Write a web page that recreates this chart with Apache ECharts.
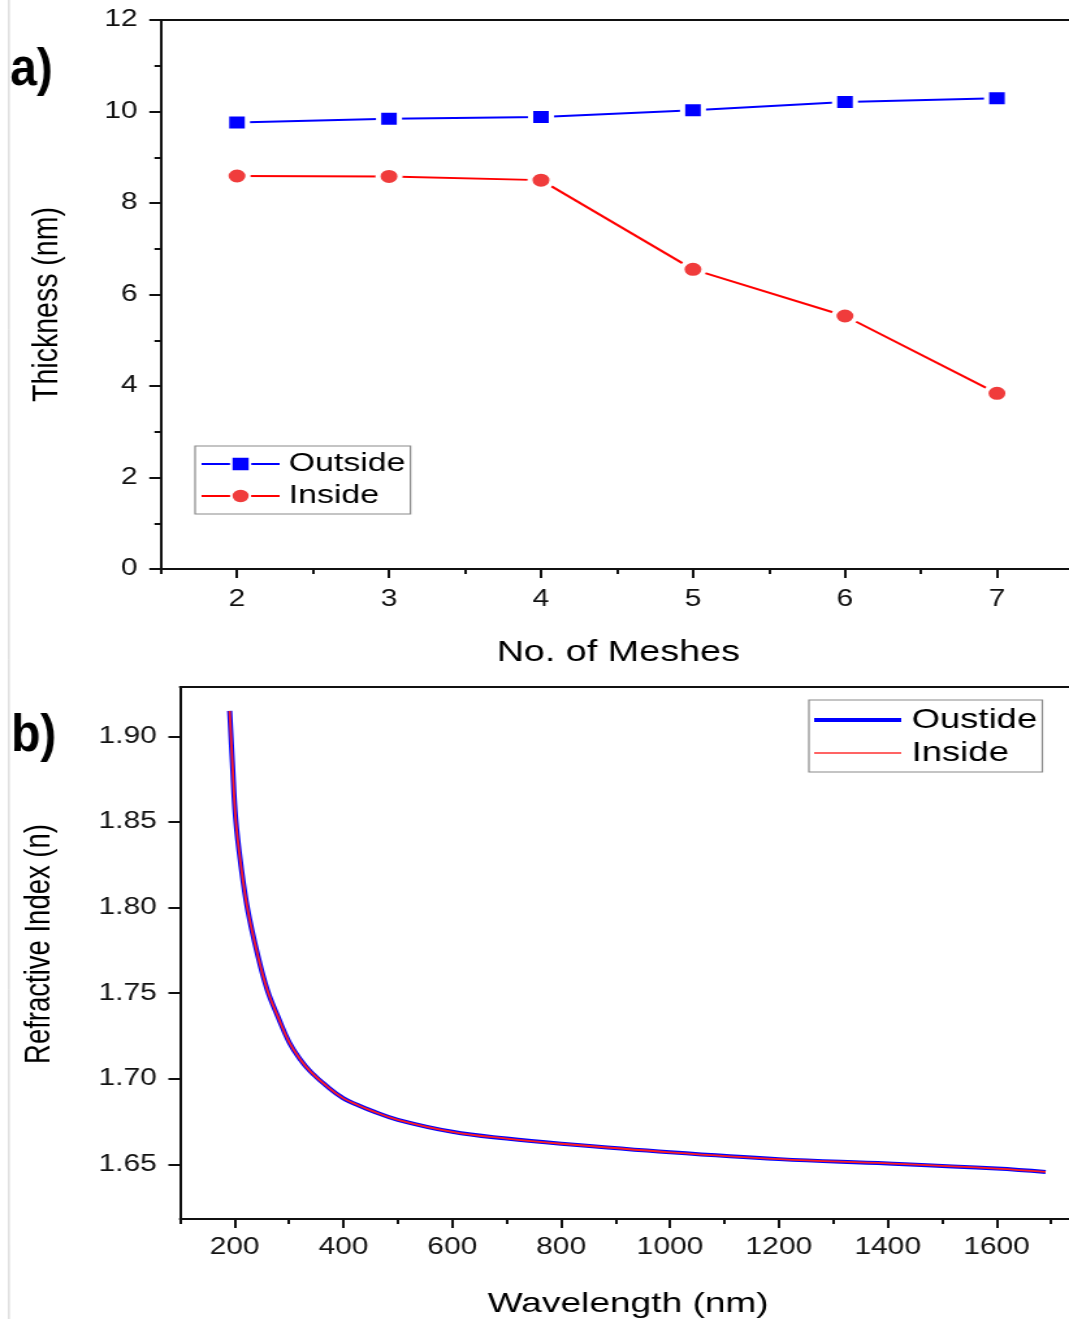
<!DOCTYPE html>
<html>
<head>
<meta charset="utf-8">
<title>Thickness and refractive index</title>
<script src="https://cdn.jsdelivr.net/npm/echarts@6/dist/echarts.min.js"></script>
<style>
  html, body { margin: 0; padding: 0; background: #fff; overflow: hidden; }
  /* the figure is drawn on a narrower canvas and widened, like the original plot export */
  #chart { width: 822px; height: 1319px; transform: scaleX(1.3005); transform-origin: 0 0; }
</style>
</head>
<body>
<div id="chart"></div>
<script>
// ---- panel a) : thickness vs. number of meshes ----
const meshes = [2, 3, 4, 5, 6, 7];
const outsideThickness = [9.76, 9.84, 9.88, 10.03, 10.21, 10.29];
const insideThickness = [8.59, 8.58, 8.50, 6.55, 5.53, 3.84];
const meshTicks = [2, 3, 4, 5, 6, 7];
const meshMinorTicks = [1.5, 2.5, 3.5, 4.5, 5.5, 6.5];

// ---- panel b) : refractive index vs. wavelength ----
const wavelength = [191, 196, 202, 212, 224, 242, 260, 280, 300, 320, 340, 370, 400, 425, 450, 500, 600, 700, 800, 1000, 1200, 1400, 1600, 1690];
const nOutside = [1.915, 1.885, 1.852, 1.824, 1.799, 1.773, 1.752, 1.736, 1.7215, 1.7115, 1.704, 1.6955, 1.6885, 1.6848, 1.6815, 1.676, 1.669, 1.665, 1.662, 1.657, 1.653, 1.6505, 1.6475, 1.6455];
const nInside = [1.915, 1.885, 1.852, 1.824, 1.799, 1.773, 1.752, 1.736, 1.7215, 1.7115, 1.704, 1.6955, 1.6885, 1.6848, 1.6815, 1.676, 1.669, 1.665, 1.662, 1.657, 1.653, 1.6505, 1.6475, 1.6455];
const wavelengthTicks = [200, 400, 600, 800, 1000, 1200, 1400, 1600];
const wavelengthMinorTicks = [100, 300, 500, 700, 900, 1100, 1300, 1500, 1700];
const indexTicks = [1.65, 1.70, 1.75, 1.80, 1.85, 1.90];
const indexMinorTicks = [1.625, 1.675, 1.725, 1.775, 1.825, 1.875, 1.925];

const FONT = "'Liberation Sans', Arial, Helvetica, sans-serif";
const INK = '#111';
const axisLineStyle = { color: INK, width: 2 };
const labelStyle = { fontSize: 23, color: INK, fontFamily: FONT };

function pairs(xs, ys) { return xs.map((x, i) => [x, ys[i]]); }

function titleText(text, x, y, size, rotation) {
  return {
    type: 'text', x: x, y: y, rotation: rotation || 0, silent: true,
    style: {
      text: text, fill: '#000',
      font: size + 'px ' + FONT,
      align: 'center', verticalAlign: 'middle',
      textAlign: 'center', textVerticalAlign: 'middle'
    }
  };
}
function panelTag(text, x, y) {
  return {
    type: 'text', x: x, y: y, scaleY: 1.4, silent: true,
    style: {
      text: text, fill: '#000',
      font: 'bold 37px ' + FONT,
      align: 'left', verticalAlign: 'middle',
      textAlign: 'left', textVerticalAlign: 'middle'
    }
  };
}
// plain frame line along the top of a panel
function frameTop(gridIndex, min, max) {
  return {
    gridIndex: gridIndex, type: 'value', min: min, max: max, position: 'top',
    axisLine: { show: true, onZero: false, lineStyle: axisLineStyle },
    axisTick: { show: false }, axisLabel: { show: false }, splitLine: { show: false }
  };
}

const meshMax = 7.474;
const waveMax = 1733;

const chart = echarts.init(document.getElementById('chart'));

chart.setOption({
  animation: false,
  backgroundColor: '#fff',
  grid: [
    { left: 123.8, right: 0, top: 20, bottom: 750, containLabel: false },
    { left: 138.5, right: 0, top: 687, bottom: 100, containLabel: false }
  ],
  xAxis: [
    {
      gridIndex: 0, type: 'value', min: 1.5, max: meshMax, position: 'bottom',
      axisLine: { show: true, onZero: false, lineStyle: axisLineStyle },
      axisTick: { show: true, length: 9, customValues: meshTicks, lineStyle: axisLineStyle },
      axisLabel: Object.assign({ customValues: meshTicks, margin: 19 }, labelStyle),
      splitLine: { show: false }
    },
    {
      gridIndex: 0, type: 'value', min: 1.5, max: meshMax, position: 'bottom',
      axisLine: { show: false },
      axisTick: { show: true, length: 5, customValues: meshMinorTicks, lineStyle: axisLineStyle },
      axisLabel: { show: false, customValues: meshMinorTicks },
      splitLine: { show: false }
    },
    frameTop(0, 1.5, meshMax),
    {
      gridIndex: 1, type: 'value', min: 100, max: waveMax, position: 'bottom',
      axisLine: { show: true, onZero: false, lineStyle: axisLineStyle },
      axisTick: { show: true, length: 9, customValues: wavelengthTicks, lineStyle: axisLineStyle },
      axisLabel: Object.assign({ customValues: wavelengthTicks, margin: 17, formatter: v => String(v) }, labelStyle),
      splitLine: { show: false }
    },
    {
      gridIndex: 1, type: 'value', min: 100, max: waveMax, position: 'bottom',
      axisLine: { show: false },
      axisTick: { show: true, length: 5, customValues: wavelengthMinorTicks, lineStyle: axisLineStyle },
      axisLabel: { show: false, customValues: wavelengthMinorTicks },
      splitLine: { show: false }
    },
    frameTop(1, 100, waveMax)
  ],
  yAxis: [
    {
      gridIndex: 0, type: 'value', min: 0, max: 12, interval: 2,
      axisLine: { show: true, onZero: false, lineStyle: axisLineStyle },
      axisTick: { show: true, length: 9, lineStyle: axisLineStyle },
      minorTick: { show: true, splitNumber: 2, length: 5, lineStyle: axisLineStyle },
      axisLabel: Object.assign({ margin: 18 }, labelStyle),
      splitLine: { show: false }, minorSplitLine: { show: false }
    },
    {
      gridIndex: 1, type: 'value', min: 1.618, max: 1.929,
      axisLine: { show: true, onZero: false, lineStyle: axisLineStyle },
      axisTick: { show: true, length: 9, customValues: indexTicks, lineStyle: axisLineStyle },
      axisLabel: Object.assign({ customValues: indexTicks, margin: 18, formatter: v => v.toFixed(2) }, labelStyle),
      splitLine: { show: false }
    },
    {
      gridIndex: 1, type: 'value', min: 1.618, max: 1.929,
      axisLine: { show: false },
      axisTick: { show: true, length: 5, customValues: indexMinorTicks, lineStyle: axisLineStyle },
      axisLabel: { show: false, customValues: indexMinorTicks },
      splitLine: { show: false }
    }
  ],
  legend: [
    {
      orient: 'vertical', left: 150, top: 446, data: ['Outside', 'Inside'],
      itemWidth: 60, itemHeight: 18, itemGap: 6, padding: [5, 4, 5, 4],
      borderColor: '#8a8a8a', borderWidth: 1.2, selectedMode: false,
      textStyle: { fontSize: 26, color: '#000', fontFamily: FONT, padding: [0, 0, 0, 2] }
    },
    {
      orient: 'vertical', left: 622, top: 700,
      data: [
        { name: 'Oustide', icon: 'path://M0,0H67V4H0Z', itemStyle: { color: '#0000ff' } },
        { name: 'Inside ', icon: 'path://M0,0H67V1.6H0Z', itemStyle: { color: '#ff3030' } }
      ],
      itemWidth: 67, itemHeight: 14, itemGap: 5, padding: [6, 4, 5, 4],
      borderColor: '#8a8a8a', borderWidth: 1.2, selectedMode: false,
      formatter: name => name.trim(),
      textStyle: { fontSize: 28, color: '#000', fontFamily: FONT, padding: [0, 0, 0, 3] }
    }
  ],
  series: [
    {
      type: 'line', name: 'Outside', xAxisIndex: 0, yAxisIndex: 0,
      data: pairs(meshes, outsideThickness),
      symbol: 'rect', symbolSize: 16,
      itemStyle: { color: '#0000ff', borderColor: '#fff', borderWidth: 4 },
      lineStyle: { color: '#0000ff', width: 2 }
    },
    {
      type: 'line', name: 'Inside', xAxisIndex: 0, yAxisIndex: 0,
      data: pairs(meshes, insideThickness),
      symbol: 'circle', symbolSize: 17,
      itemStyle: { color: '#f03c3c', borderColor: '#fff', borderWidth: 4 },
      lineStyle: { color: '#ff0000', width: 2 }
    },
    {
      type: 'line', name: 'Oustide', xAxisIndex: 3, yAxisIndex: 1,
      data: pairs(wavelength, nOutside),
      symbol: 'none', smooth: 0.4,
      lineStyle: { color: '#0000ff', width: 4 }
    },
    {
      type: 'line', name: 'Inside ', xAxisIndex: 3, yAxisIndex: 1,
      data: pairs(wavelength, nInside),
      symbol: 'none', smooth: 0.4,
      lineStyle: { color: '#ff2020', width: 1.8 }
    }
  ],
  graphic: {
    elements: [
      { type: 'line', silent: true, shape: { x1: 6.9, y1: 0, x2: 6.9, y2: 1319 }, style: { stroke: '#cfcfcf', lineWidth: 1 } },
      panelTag('a)', 7.7, 71),
      panelTag('b)', 8.5, 737),
      titleText('No. of Meshes', 475.4, 653, 29),
      titleText('Wavelength (nm)', 483, 1304, 28.5),
      titleText('Thickness (nm)', 36, 304.5, 28.5, Math.PI / 2),
      titleText('Refractive Index (n)', 30, 944, 27.5, Math.PI / 2)
    ]
  }
});
</script>
</body>
</html>
